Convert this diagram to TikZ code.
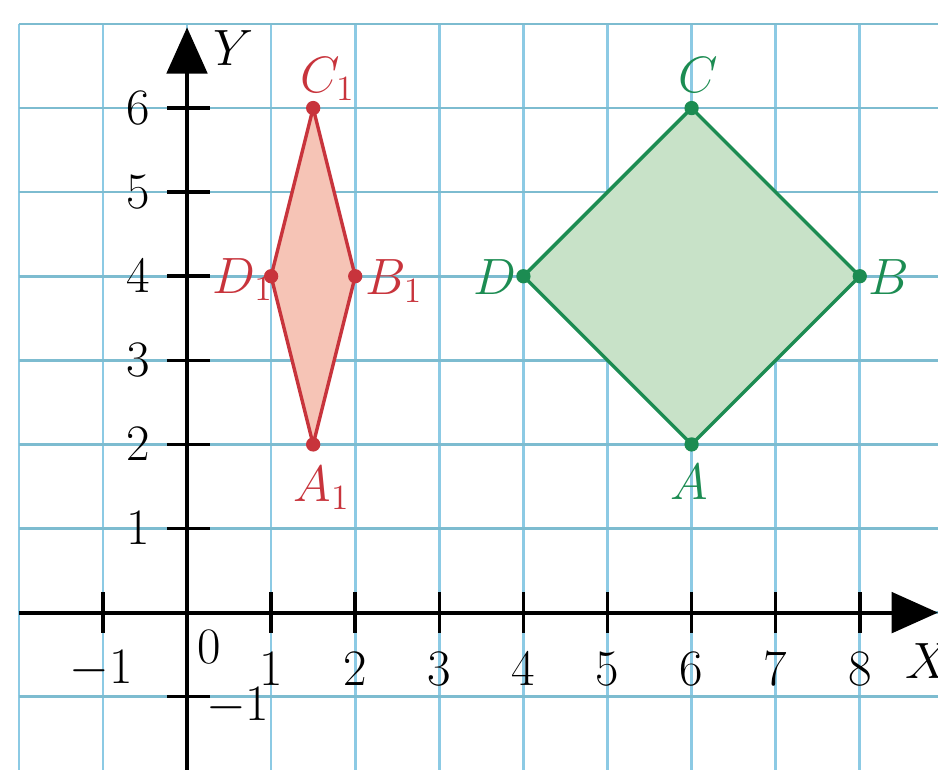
\documentclass[tikz,border=0pt]{standalone}
\usetikzlibrary{arrows.meta}
\definecolor{gridv}{RGB}{140,202,228}
\definecolor{gridh}{RGB}{125,188,208}
\definecolor{redline}{RGB}{200,52,60}
\definecolor{redfill}{RGB}{246,196,182}
\definecolor{greenline}{RGB}{28,140,82}
\definecolor{greenfill}{RGB}{200,226,200}
\begin{document}
\begin{tikzpicture}[x=1cm,y=1cm,
  txt/.style={font=\fontsize{17.28}{21}\selectfont, inner sep=0pt},
  redlbl/.style={txt, text=redline},
  greenlbl/.style={txt, text=greenline},
  vgrid/.style={gridv, line width=0.9pt},
  hgrid/.style={gridh, line width=0.9pt},
  axisline/.style={black, line width=1.35pt, -{Triangle[length=0.55cm,width=0.48cm]}},
  tickline/.style={black, line width=1.2pt},
  redshape/.style={draw=redline, fill=redfill, line width=1.15pt, line join=round},
  greenshape/.style={draw=greenline, fill=greenfill, line width=1.15pt, line join=round},
  reddot/.style={fill=redline},
  greendot/.style={fill=greenline}]
\useasboundingbox (-2.224,-1.870) rectangle (8.930,7.285);
\fill[white] (-2.224,-1.870) rectangle (8.930,7.285);
% grid
\foreach \x in {-2,...,8} \draw[vgrid] (\x,7) -- (\x,-1.87);
\foreach \y in {-1,...,7} \draw[hgrid] (-2,\y) -- (8.93,\y);
% points
\coordinate (A1) at (1.5,2);
\coordinate (B1) at (2,4);
\coordinate (C1) at (1.5,6);
\coordinate (D1) at (1,4);
\coordinate (A) at (6,2);
\coordinate (B) at (8,4);
\coordinate (C) at (6,6);
\coordinate (D) at (4,4);
% shapes
\draw[redshape] (A1) -- (B1) -- (C1) -- (D1) -- cycle;
\draw[greenshape] (A) -- (B) -- (C) -- (D) -- cycle;
% axes
\coordinate (xs) at (-2,0);
\coordinate (xe) at (8.93,0);
\coordinate (ys) at (0,-1.87);
\coordinate (ye) at (0,6.96);
\draw[axisline] (xs) -- (xe);
\draw[axisline] (ys) -- (ye);
% ticks
\foreach \x in {-1,1,2,3,4,5,6,7,8} {
  \coordinate (xt\x a) at (\x,-0.24);
  \coordinate (xt\x b) at (\x,0.24);
  \draw[tickline] (xt\x a) -- (xt\x b);
}
\foreach \y in {-1,1,2,3,4,5,6} {
  \coordinate (yt\y a) at (-0.24,\y);
  \coordinate (yt\y b) at (0.27,\y);
  \draw[tickline] (yt\y a) -- (yt\y b);
}
% tick labels
\node[txt] (lxm1) at (-1.02,-0.67) {$-1$};
\foreach \x in {1,...,8} \node[txt] (lx\x) at (\x,-0.67) {$\x$};
\foreach \y in {1,...,6} \node[txt] (ly\y) at (-0.58,\y) {$\y$};
\node[txt, anchor=base west] (lym1) at (0.22,-1.28) {$-1$};
\node[txt, anchor=base west] (l0) at (0.12,-0.60) {$0$};
\node[txt, anchor=base west] (lX) at (8.54,-0.78) {$X$};
\node[txt, anchor=base west] (lY) at (0.31,6.51) {$Y$};
% dots
\foreach \p in {A1,B1,C1,D1} \fill[reddot] (\p) circle (0.085);
\foreach \p in {A,B,C,D} \fill[greendot] (\p) circle (0.085);
% point labels
\node[redlbl, anchor=base west] (lA1) at (1.26,1.32) {$A_1$};
\node[redlbl, anchor=base west] (lB1) at (2.12,3.78) {$B_1$};
\node[redlbl, anchor=base west] (lC1) at (1.34,6.18) {$C_1$};
\node[redlbl, anchor=base west] (lD1) at (0.30,3.80) {$D_1$};
\node[greenlbl, anchor=base west] (lA) at (5.74,1.34) {$A$};
\node[greenlbl, anchor=base west] (lB) at (8.10,3.78) {$B$};
\node[greenlbl, anchor=base west] (lC) at (5.84,6.19) {$C$};
\node[greenlbl, anchor=base west] (lD) at (3.40,3.78) {$D$};
\end{tikzpicture}
\end{document}
